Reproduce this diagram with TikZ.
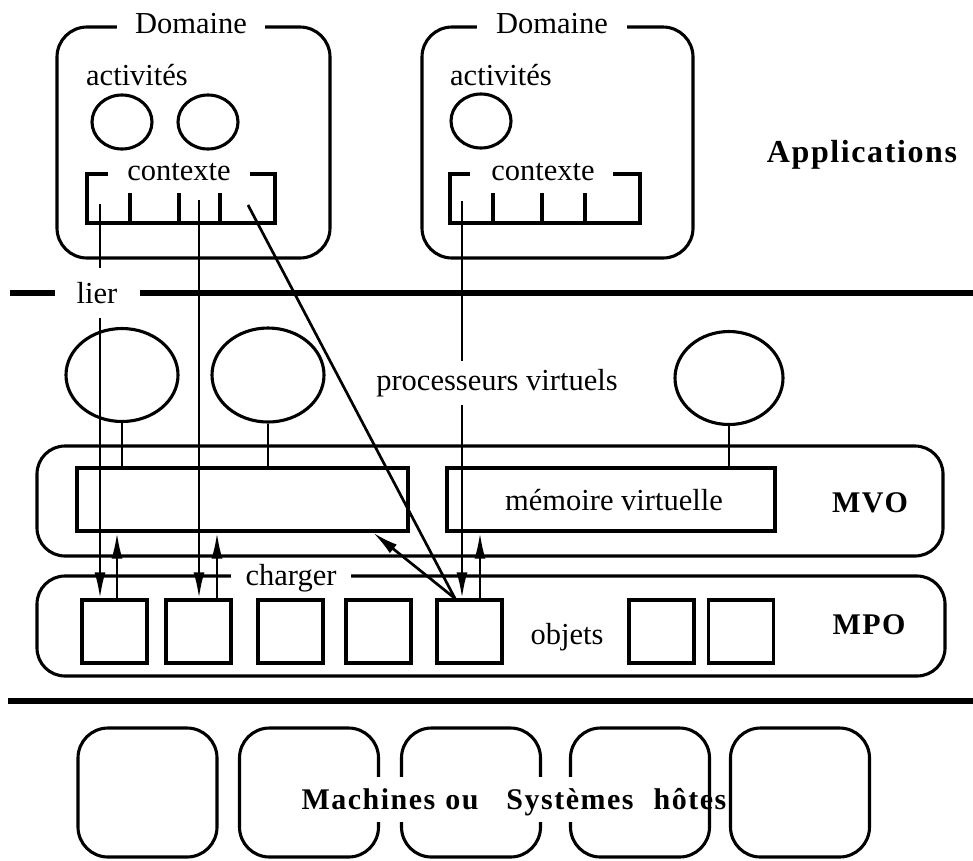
\documentclass[tikz,border=0pt]{standalone}
\usepackage{fontspec}
\setmainfont{Liberation Serif}
\newfontfamily\spbold[LetterSpace=5]{Liberation Serif}
\usetikzlibrary{arrows.meta,shapes.geometric}
\begin{document}
\begin{tikzpicture}[x=1pt,y=-1pt,
  box/.style={draw, line width=3.1pt, inner sep=0pt},
  rbox/.style={box, rounded corners=#1},
  ell/.style={draw, ellipse, line width=3.1pt, inner sep=0pt},
  brk/.style={line width=3.1pt},
  conn/.style={line width=2.7pt},
  arr/.style={conn, -{Latex[length=26pt,width=11pt]}},
  sepline/.style={line width=5.5pt},
  lbl/.style={font=\fontsize{30.5}{36}\selectfont, inner sep=0pt},
  blbl/.style={font=\spbold\bfseries\fontsize{30}{36}\selectfont, inner sep=0pt},
  mask/.style={fill=white},
]
\useasboundingbox (0,0) rectangle (973,860);

% ---------- Applications layer ----------
\node[rbox=30pt, minimum width=273pt, minimum height=231pt] (dom1) at (193.5,142.5) {};
\node[rbox=30pt, minimum width=271pt, minimum height=231pt] (dom2) at (557.5,142.5) {};
\node[ell, minimum width=60pt, minimum height=54pt] (a1) at (122,122) {};
\node[ell, minimum width=60pt, minimum height=54pt] (a2) at (208,122) {};
\node[ell, minimum width=60pt, minimum height=54pt] (a3) at (481,121) {};

% context brackets
\draw[brk] (108,174) -- (87,174) -- (87,223) -- (275,223) -- (275,174) -- (250,174);
\foreach \x in {130,179,220} \draw[brk] (\x,223) -- (\x,193);
\draw[brk] (470,174) -- (450,174) -- (450,223) -- (640,223) -- (640,174) -- (613,174);
\foreach \x in {493,542,585} \draw[brk] (\x,223) -- (\x,193);

\coordinate (p1) at (100,204);
\coordinate (p2) at (199,200);
\coordinate (p3) at (248,205);
\coordinate (p4) at (462,201);

% separators
\draw[sepline] (10,293) -- (55,293);
\draw[sepline] (140,293) -- (973,293);
\draw[sepline] (8,701) -- (973,701);

% ---------- virtual processors ----------
\node[ell, minimum width=112pt, minimum height=93pt] (pA) at (122,375) {};
\node[ell, minimum width=112pt, minimum height=94pt] (pB) at (268,375) {};
\node[ell, minimum width=108pt, minimum height=93pt] (pC) at (729,378) {};

% ---------- MVO ----------
\node[rbox=28pt, minimum width=906pt, minimum height=110pt] (mvo) at (490,501) {};
\node[box, minimum width=331pt, minimum height=63pt] (vm1) at (242.5,499.5) {};
\node[box, minimum width=328pt, minimum height=63pt] (vm2) at (611,499.5) {};
\draw[conn] (pA.south) -- (pA.south |- vm1.north);
\draw[conn] (pB.south) -- (pB.south |- vm1.north);
\draw[conn] (pC.south) -- (pC.south |- vm2.north);

% ---------- MPO ----------
\node[rbox=28pt, minimum width=908pt, minimum height=100pt] (mpo) at (491,626) {};
\foreach \n/\x in {o1/114.5,o2/198.5,o3/290.5,o4/378.5,o5/469.5,o6/661.5,o7/741}
  \node[box, minimum width=65pt, minimum height=63pt] (\n) at (\x,631.5) {};

% ---------- host machines ----------
\foreach \n/\x in {m1/147.5,m2/309,m3/471,m4/640,m5/800}
  \node[rbox=30pt, minimum width=139pt, minimum height=129pt] (\n) at (\x,792.5) {};

% ---------- connectors ----------
\coordinate (u1) at (117,0);
\coordinate (u2) at (217,0);
\coordinate (u3) at (480,0);
\coordinate (q5) at (455,0);
\coordinate (r1) at (373,0);
\draw[arr] (p1) -- (p1 |- o1.north);
\draw[arr] (u1 |- o1.north) -- (u1 |- vm1.south);
\draw[arr] (p2) -- (p2 |- o2.north);
\draw[arr] (u2 |- o2.north) -- (u2 |- vm1.south);
\draw[arr] (p4) -- (p4 |- o5.north);
\draw[arr] (u3 |- o5.north) -- (u3 |- vm2.south);
\draw[conn] (p3) -- (q5 |- o5.north);
\draw[arr] (q5 |- o5.north) -- (r1 |- vm1.south);

% ---------- labels ----------
\node[lbl, mask, minimum width=148pt, minimum height=30pt] (tdom1) at (191,24) {Domaine};
\node[lbl, mask, minimum width=150pt, minimum height=30pt] (tdom2) at (552,24) {Domaine};
\node[lbl] (tact1) at (137,75) {activités};
\node[lbl] (tact2) at (501,75) {activités};
\node[lbl] (tctx1) at (179,172) {contexte};
\node[lbl] (tctx2) at (543,172) {contexte};
\node[blbl, font=\spbold\bfseries\fontsize{32}{38}\selectfont] (tapp) at (862,155) {Applications};
\node[lbl, mask, minimum width=82pt, minimum height=50pt] (tlier) at (97,293) {lier};
\node[lbl, mask, minimum height=44pt, inner xsep=3pt] (tpv) at (497,383) {processeurs virtuels};
\node[lbl] (tmv) at (614,500) {mémoire virtuelle};
\node[blbl] (tmvo) at (870,503) {MVO};
\node[lbl, mask, minimum width=120pt] (tch) at (291,578) {charger};
\node[lbl] (tobj) at (567,637) {objets};
\node[blbl] (tmpo) at (869,625) {MPO};
\node[blbl, mask, anchor=base, text height=32pt, text depth=13pt] (tmach) at (390,809) {Machines\hspace{10pt}ou};
\node[blbl, mask, anchor=base, text height=32pt, text depth=13pt] (tsys) at (570,809) {Systèmes};
\node[blbl, anchor=base] (thot) at (690,809) {hôtes};
\end{tikzpicture}
\end{document}
